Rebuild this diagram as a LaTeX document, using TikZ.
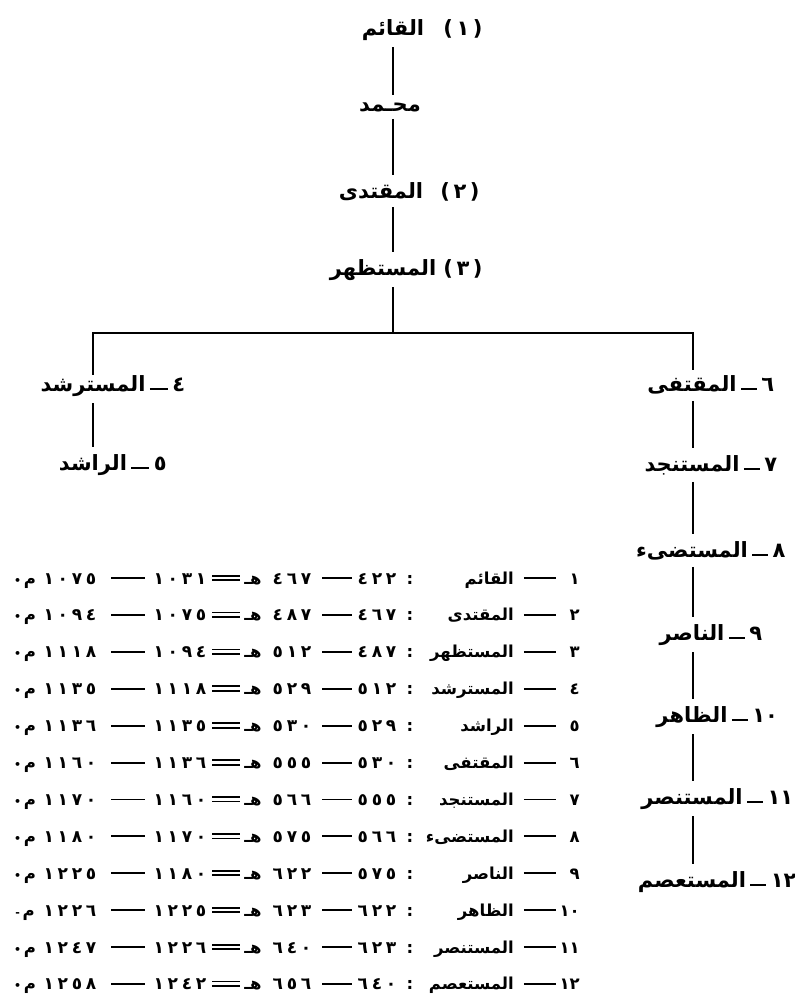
\documentclass[tikz,border=0pt]{standalone}
\usepackage{fontspec}
\usepackage{graphicx}
\TeXXeTstate=1
\newfontfamily\ar[Script=Arabic]{DejaVu Sans}
\newfontfamily\lat{DejaVu Sans}
\newfontfamily\arsp[Script=Arabic,LetterSpace=22]{DejaVu Sans}
\newcommand{\rtl}[1]{\beginR#1\endR}
\newcommand{\paren}[1]{{\lat\bfseries(}\,#1\,{\lat\bfseries)}}
\begin{document}
\begin{tikzpicture}[x=1pt,y=-1pt,
  tn/.style={font=\ar\bfseries\fontsize{21}{24}\selectfont, inner sep=0pt},
  tb/.style={font=\ar\bfseries\fontsize{16.5}{18}\selectfont, inner sep=0pt},
  tnum/.style={font=\arsp\bfseries\fontsize{17}{20}\selectfont, inner sep=0pt},
  ln/.style={line width=1.4pt},
  conn/.style={ln, shorten <=7pt, shorten >=7pt}]
\useasboundingbox (0,0) rectangle (795,1005);
\fill[white] (0,0) rectangle (795,1005);
% ---------- tree ----------
\coordinate (stem) at (393,0);
\node[tn, anchor=base] (n1) at (393,35) {\rtl{القائم}};
\node[tn, anchor=base] (p1) at (463,35) {\paren{١}};
\node[tn, anchor=base] (mu) at (390,111) {\rtl{محـمد}};
\node[tn, anchor=base] (n2) at (381,198) {\rtl{المقتدى}};
\node[tn, anchor=base] (p2) at (460,198) {\paren{٢}};
\node[tn, anchor=base] (n3) at (383,275) {\rtl{المستظهر}};
\node[tn, anchor=base] (p3) at (463,275) {\paren{٣}};
\draw[conn] (n1.south -| stem) -- (mu.north -| stem);
\draw[conn] (mu.south -| stem) -- (n2.north -| stem);
\draw[conn] (n2.south -| stem) -- (n3.north -| stem);
\coordinate (hl) at (93,333);
\coordinate (hr) at (693,333);
\draw[ln, shorten <=7pt] (n3.south -| stem) -- (stem |- hl);
% left branch
\node[tn, anchor=base] (l4) at (93,391) {\rtl{المسترشد}};
\node[tn, anchor=base west] (l4d) at ([xshift=4pt]l4.base east) {\raisebox{1pt}{\rule{18pt}{2pt}}};
\node[tn, anchor=base west] (l4n) at ([xshift=4pt]l4d.base east) {٤};
\node[tn, anchor=base] (l5) at (93,470) {\rtl{الراشد}};
\node[tn, anchor=base west] (l5d) at ([xshift=4pt]l5.base east) {\raisebox{1pt}{\rule{18pt}{2pt}}};
\node[tn, anchor=base west] (l5n) at ([xshift=4pt]l5d.base east) {٥};
\draw[conn] (l4.south -| hl) -- (l5.north -| hl);
% right branch
\foreach \k/\num/\nm/\yy in {6/٦/المقتفى/391, 7/٧/المستنجد/471, 8/٨/المستضىء/557, 9/٩/الناصر/640, 10/١٠/الظاهر/722, 11/١١/المستنصر/804, 12/١٢/المستعصم/887}{
  \node[tn, anchor=base] (r\k) at (692,\yy) {\rtl{\nm}};
  \node[tn, anchor=base west] (r\k d) at ([xshift=4pt]r\k.base east) {\raisebox{1pt}{\rule{16pt}{2pt}}};
  \node[tn, anchor=base west] (r\k n) at ([xshift=4pt]r\k d.base east) {\num};
}
\draw[ln, shorten >=5pt] (l4.north -| hl) -- (hl) -- (hr) -- (r6.north -| hr);
\foreach \a/\b in {6/7,7/8,8/9,9/10,10/11,11/12}{
  \draw[conn] (r\a.south -| hr) -- (r\b.north -| hr);
}
% ---------- table ----------
\foreach \i/\n/\nm/\ha/\hb/\ca/\cb/\mk in {
 1/١/القائم/٤٢٢/٤٦٧/١٠٣١/١٠٧٥/•,
 2/٢/المقتدى/٤٦٧/٤٨٧/١٠٧٥/١٠٩٤/•,
 3/٣/المستظهر/٤٨٧/٥١٢/١٠٩٤/١١١٨/•,
 4/٤/المسترشد/٥١٢/٥٢٩/١١١٨/١١٣٥/•,
 5/٥/الراشد/٥٢٩/٥٣٠/١١٣٥/١١٣٦/•,
 6/٦/المقتفى/٥٣٠/٥٥٥/١١٣٦/١١٦٠/•,
 7/٧/المستنجد/٥٥٥/٥٦٦/١١٦٠/١١٧٠/•,
 8/٨/المستضىء/٥٦٦/٥٧٥/١١٧٠/١١٨٠/•,
 9/٩/الناصر/٥٧٥/٦٢٢/١١٨٠/١٢٢٥/•,
 10/١٠/الظاهر/٦٢٢/٦٢٣/١٢٢٥/١٢٢٦/-,
 11/١١/المستنصر/٦٢٣/٦٤٠/١٢٢٦/١٢٤٧/•,
 12/١٢/المستعصم/٦٤٠/٦٥٦/١٢٤٢/١٢٥٨/•}{
  \pgfmathsetmacro\by{584+36.9*(\i-1)}
  \node[tb, anchor=base east] (t\i n) at (580,\by) {\n};
  \node[tb, anchor=base east] (t\i d) at (556,\by) {\raisebox{5pt}{\rule{32pt}{1.9pt}}};
  \node[tb, anchor=base east] (t\i m) at (514,\by) {\rtl{\nm}};
  \node[tb, anchor=base] (t\i c) at (410,\by) {:};
  \node[tnum, anchor=base] (t\i a) at (377,\by) {\ha};
  \node[tb, anchor=base] (t\i e) at (337,\by) {\raisebox{5pt}{\rule{30pt}{1.9pt}}};
  \node[tnum, anchor=base] (t\i b) at (292,\by) {\hb};
  \node[tb, anchor=base] (t\i h) at (253,\by) {هـ};
  \node[tb, anchor=base] (t\i q) at (226,\by) {\rlap{\raisebox{3pt}{\rule{28pt}{1.8pt}}}\raisebox{7.5pt}{\rule{28pt}{1.8pt}}};
  \node[tnum, anchor=base] (t\i x) at (180,\by) {\ca};
  \node[tb, anchor=base] (t\i f) at (128,\by) {\raisebox{5pt}{\rule{34pt}{1.9pt}}};
  \node[tnum, anchor=base] (t\i y) at (70,\by) {\cb};
  \node[tb, anchor=base] (t\i k) at (25,\by) {{\fontsize{11}{11}\selectfont\mk}\,م};
}
\end{tikzpicture}
\end{document}
